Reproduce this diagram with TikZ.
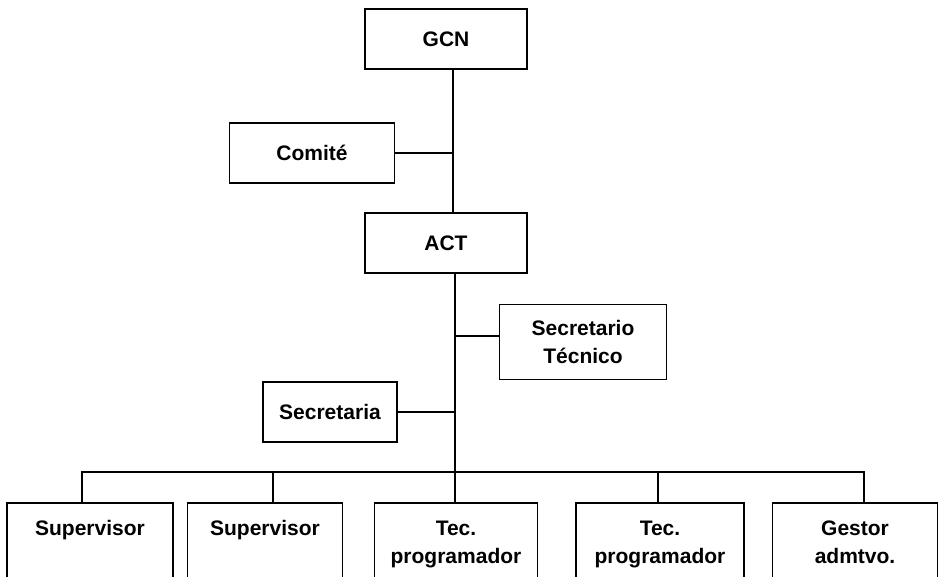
\documentclass[tikz,border=0pt]{standalone}
\usepackage{fontspec}
\setmainfont{Liberation Sans}
\usetikzlibrary{positioning}
\usetikzlibrary{calc}
\tikzset{every picture/.style={line width=1.8pt,x=1pt,y=-1pt},
unit/.style={draw,align=center,inner sep=0pt,font=\bfseries\fontsize{21}{28}\selectfont},
botunit/.style={unit,anchor=north,text width=#1,text height=33pt,text depth=120pt}}
\begin{document}
\begin{tikzpicture}
\useasboundingbox (0,0) rectangle (943,576);
\node (gcn) [unit, minimum width=162pt, minimum height=60pt] at (446,39) {GCN};
\node (comite) [unit, minimum width=165pt, minimum height=60pt] at (312,153) {Comité};
\node (act) [unit, minimum width=162pt, minimum height=60pt] at (446,243) {ACT};
\node (sectec) [unit, minimum width=167pt, minimum height=75pt] at (583,342) {Secretario\\Técnico};
\node (secret) [unit, minimum width=134pt, minimum height=60pt] at (330,412) {Secretaria};

\node (sup1) [botunit=166pt] at (90,502) {Supervisor};
\node (sup2) [botunit=155pt] at (265,502) {Supervisor};
\node (tec1) [botunit=163pt] at (456,502) {Tec.\\programador};
\node (tec2) [botunit=168pt] at (660,502) {Tec.\\programador};
\node (gestor) [botunit=165pt] at (855,502) {Gestor\\admtvo.};

\coordinate (trunk) at ([xshift=7pt]gcn.south);
\coordinate (bus) at (455,472);

\draw[-] (trunk) -- (trunk |- act.north);
\draw[-] (comite.east) -- (comite.east -| trunk);
\draw[-] (act.south -| bus) -- (bus);
\draw[-] ($(sectec.west)+(0,-6)$) -- ($(sectec.west -| bus)+(0,-6)$);
\draw[-] (secret.east) -- (secret.east -| bus);
\draw[-] ([xshift=-8pt]sup1.north) |- (bus);
\draw[-] (bus) -| ([xshift=9pt]gestor.north);
\draw[-] ([xshift=8pt]sup2.north) -- ([xshift=8pt]sup2.north |- bus);
\draw[-] ([xshift=-2pt]tec2.north) -- ([xshift=-2pt]tec2.north |- bus);
\draw[-] (bus) -- (bus |- tec1.north);
\end{tikzpicture}
\end{document}
